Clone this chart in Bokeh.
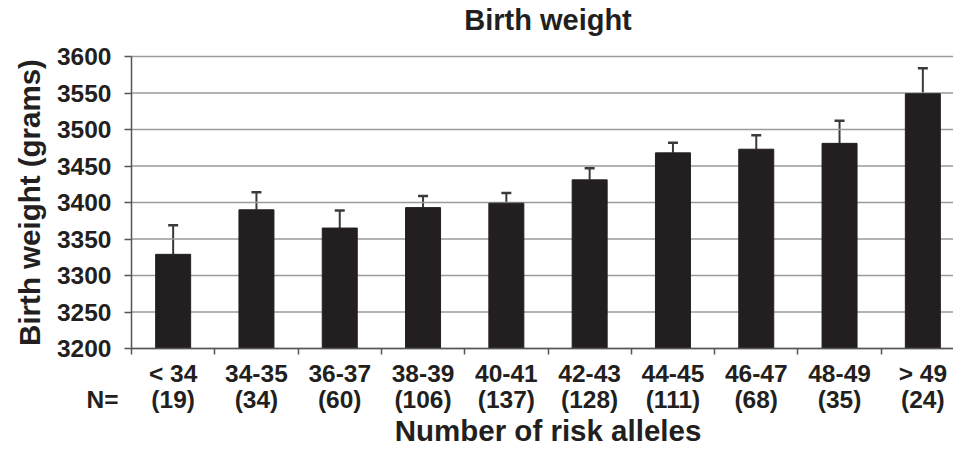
import numpy as np
from bokeh.plotting import figure
from bokeh.models import (Range1d, FixedTicker, Whisker, ColumnDataSource, Label,
                          LabelSet, TeeHead, LinearAxis)
from bokeh.core.properties import value
from bokeh.embed import file_html
from bokeh.resources import INLINE

allele_groups = ["< 34", "34-35", "36-37", "38-39", "40-41", "42-43", "44-45", "46-47", "48-49", "> 49"]
group_n = [19, 34, 60, 106, 137, 128, 111, 68, 35, 24]
birth_weight = [3329, 3390, 3365, 3393, 3399, 3431, 3468, 3473, 3481, 3549]
std_error = [40, 24, 24, 16, 14, 16, 14, 19, 31, 35]
y_ticks = [3200, 3250, 3300, 3350, 3400, 3450, 3500, 3550, 3600]

FONT = "Liberation Sans"
INK = "#231f20"
AXIS = "#555555"
Y0, Y1 = y_ticks[0], y_ticks[-1]
NCAT = len(allele_groups)

# layout (pixels)
W, H = 953, 448
PX_LEFT, PX_TOP, PX_BOTTOM, PX_PER_CAT = 131, 56, 348, 83.3
px_per_y = (PX_BOTTOM - PX_TOP) / (Y1 - Y0)

x_start = -PX_LEFT / PX_PER_CAT
x_end = (W - PX_LEFT) / PX_PER_CAT
y_end = Y1 + PX_TOP / px_per_y
y_start = Y0 - (H - PX_BOTTOM) / px_per_y

pos = np.arange(NCAT) + 0.5
src = ColumnDataSource(dict(
    x=pos,
    top=birth_weight,
    lower=birth_weight,
    upper=np.array(birth_weight) + np.array(std_error),
    base=[Y0] * NCAT,
    grp=allele_groups,
    nlab=[f"({n})" for n in group_n],
))

p = figure(width=W, height=H, output_backend="svg", toolbar_location=None,
           x_range=Range1d(x_start, x_end), y_range=Range1d(y_start, y_end),
           x_axis_location=None, y_axis_location=None, min_border=0)
p.outline_line_color = None
p.background_fill_color = "white"
p.border_fill_color = "white"
for g in p.grid:
    g.visible = False

# horizontal gridlines over the category area
p.segment(x0=0, x1=x_end, y0=y_ticks, y1=y_ticks, line_color="#9a9a9a", line_width=1.5)

p.vbar(x="x", top="top", bottom=Y0, width=0.42, source=src,
       fill_color=INK, line_color=INK, line_width=1)

w = Whisker(base="x", lower="lower", upper="upper", source=src, dimension="height",
            line_color="#3a3a3a", line_width=2,
            upper_head=TeeHead(size=10, line_color="#3a3a3a", line_width=2.5),
            lower_head=None)
p.add_layout(w)

# y axis
yaxis = LinearAxis(fixed_location=0, bounds=(Y0, Y1), ticker=FixedTicker(ticks=y_ticks))
yaxis.major_label_text_font = FONT
yaxis.major_label_text_font_size = "24.5px"
yaxis.major_label_text_font_style = "bold"
yaxis.major_label_text_color = INK
yaxis.major_label_standoff = 13
yaxis.major_tick_out = 7
yaxis.major_tick_in = 0
yaxis.minor_tick_out = 0
yaxis.minor_tick_in = 0
yaxis.axis_line_color = AXIS
yaxis.axis_line_width = 1.5
yaxis.major_tick_line_color = AXIS
yaxis.major_tick_line_width = 1.5
p.add_layout(yaxis, "left")

# x axis: ticks between categories
xaxis = LinearAxis(fixed_location=Y0, bounds=(0, NCAT),
                   ticker=FixedTicker(ticks=[], minor_ticks=list(range(NCAT + 1))))
xaxis.major_label_text_font_size = "0px"
xaxis.major_tick_out = 0
xaxis.major_tick_in = 0
xaxis.minor_tick_out = 6
xaxis.minor_tick_in = 0
xaxis.minor_tick_line_color = AXIS
xaxis.minor_tick_line_width = 1.5
xaxis.axis_line_color = AXIS
xaxis.axis_line_width = 1.5
p.add_layout(xaxis, "below")

style = dict(text_font_style="bold", text_color=INK,
             text_align="center", text_baseline="middle")
set_style = dict(text_font=value(FONT), **style)
lab_style = dict(text_font=FONT, **style)

p.add_layout(LabelSet(x="x", y="base", text="grp", source=src, y_offset=-25,
                      text_font_size=value("24.5px"), **set_style))
p.add_layout(LabelSet(x="x", y="base", text="nlab", source=src, y_offset=-51,
                      text_font_size=value("24.5px"), **set_style))
p.add_layout(Label(x=0, y=Y0, x_offset=-29, y_offset=-51, text="N=",
                   text_font_size="24.5px", **lab_style))

# titles
p.add_layout(Label(x=NCAT / 2, y=Y1, y_offset=37, text="Birth weight",
                   text_font_size="29px", **lab_style))
p.add_layout(Label(x=NCAT / 2, y=Y0, y_offset=-82, text="Number of risk alleles",
                   text_font_size="29.5px", **lab_style))
p.add_layout(Label(x=0, y=(Y0 + Y1) / 2, x_offset=-102, angle=np.pi / 2,
                   text="Birth weight (grams)", text_font_size="29.5px", **lab_style))

open("out.html", "w").write(file_html(p, INLINE))
